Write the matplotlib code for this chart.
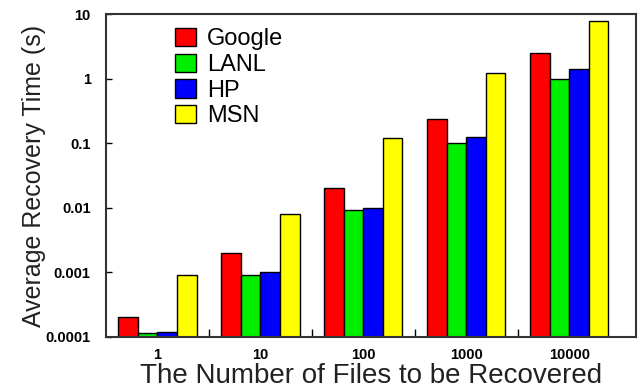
import numpy as np
import matplotlib as mpl
import matplotlib.pyplot as plt
from matplotlib.ticker import FixedLocator, FixedFormatter, NullLocator

mpl.rcParams['font.family'] = 'Liberation Sans'

groups = ['1', '10', '100', '1000', '10000']
series = ['Google', 'LANL', 'HP', 'MSN']
colors = ['#ff0000', '#00ee00', '#0000ff', '#ffff00']

google = [0.0002, 0.002, 0.02, 0.24, 2.5]
lanl = [0.000113, 0.0009, 0.0093, 0.1, 1.0]
hp = [0.00012, 0.001, 0.01, 0.125, 1.4]
msn = [0.0009, 0.008, 0.12, 1.22, 7.9]
values = [google, lanl, hp, msn]

yticks = [0.0001, 0.001, 0.01, 0.1, 1, 10]
ytick_labels = ['0.0001', '0.001', '0.01', '0.1', '1', '10']

fig = plt.figure(figsize=(6.42, 3.89), dpi=100)
ax = fig.add_axes([0.165, 0.134, 0.826, 0.83])

x = np.arange(len(groups))
w = 0.19
for i, (name, vals) in enumerate(zip(series, values)):
    ax.bar(x + (i - 1.5) * w, vals, w, color=colors[i],
           edgecolor='black', linewidth=1.0, label=name)

ax.set_yscale('log')
ax.set_ylim(0.0001, 10)
ax.set_xlim(-0.5, 4.65)

ax.yaxis.set_major_locator(FixedLocator(yticks))
ax.yaxis.set_major_formatter(FixedFormatter(ytick_labels))
ax.yaxis.set_minor_locator(NullLocator())
ax.tick_params(axis='y', direction='in', length=4, width=1, labelsize=10.5, pad=11)
for lab in ax.get_yticklabels():
    lab.set_fontweight('bold')

ax.set_xticks(x)
ax.set_xticklabels(groups, fontsize=10.5, fontweight='bold')
ax.set_xticks(x[:-1] + 0.5, minor=True)
ax.tick_params(axis='x', which='major', length=0, pad=8)
ax.tick_params(axis='x', which='minor', direction='in', length=6, width=1)

for s in ax.spines.values():
    s.set_linewidth(1.5)
    s.set_color('#333333')

ax.set_ylabel('Average Recovery Time (s)', fontsize=18, color='#222222', labelpad=0)
ax.set_xlabel('The Number of Files to be Recovered', fontsize=20, color='#222222', labelpad=1)

ax.legend(loc='upper left', bbox_to_anchor=(0.13, 0.957), frameon=False, fontsize=17,
          handlelength=0.88, handleheight=0.8, handletextpad=0.47, labelspacing=0.15,
          borderaxespad=0.0, borderpad=0.0)

fig.savefig('out.png', dpi=100)
